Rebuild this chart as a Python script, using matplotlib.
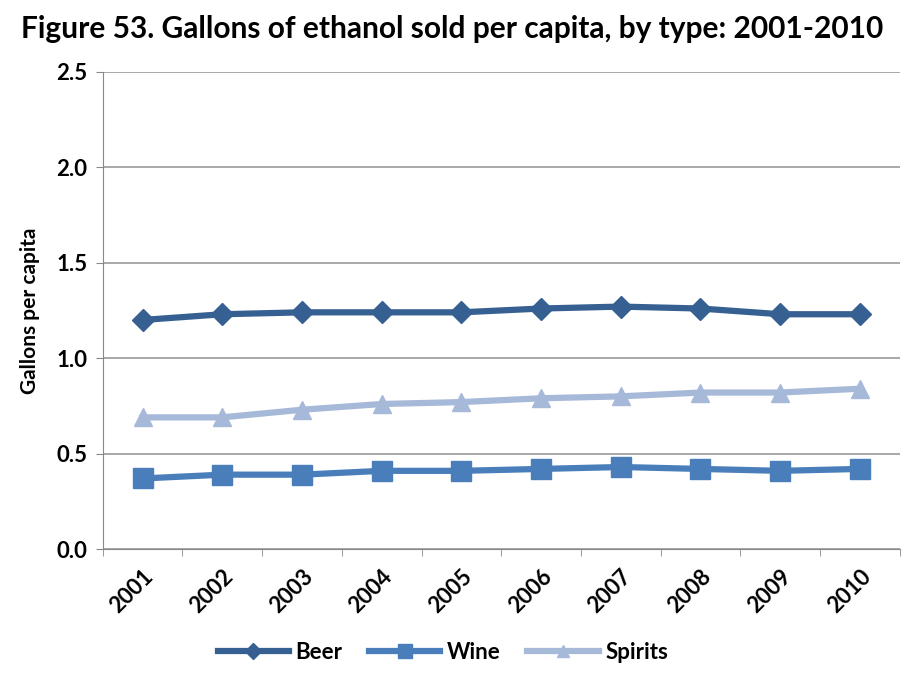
import matplotlib.pyplot as plt

# data
years = ['2001', '2002', '2003', '2004', '2005', '2006', '2007', '2008', '2009', '2010']
beer = [1.20, 1.23, 1.24, 1.24, 1.24, 1.26, 1.27, 1.26, 1.23, 1.23]
wine = [0.37, 0.39, 0.39, 0.41, 0.41, 0.42, 0.43, 0.42, 0.41, 0.42]
spirits = [0.69, 0.69, 0.73, 0.76, 0.77, 0.79, 0.80, 0.82, 0.82, 0.84]

plt.rcParams['font.family'] = ['Lato', 'DejaVu Sans']
plt.rcParams['font.weight'] = 'bold'

fig = plt.figure(figsize=(9.04, 6.83), dpi=100)
ax = fig.add_axes([0.1136, 0.196, 0.8817, 0.699])

x = list(range(len(years)))
ax.plot(x, beer, color='#376092', lw=4.5, marker='D', ms=11, label='Beer')
ax.plot(x, wine, color='#4A7EBB', lw=4.5, marker='s', ms=15, label='Wine')
ax.plot(x, spirits, color='#A7B9D9', lw=4.5, marker='^', ms=13, label='Spirits')

ax.set_ylim(0, 2.5)
ax.set_xlim(-0.5, 9.5)
ax.set_yticks([0, 0.5, 1.0, 1.5, 2.0, 2.5])
ax.set_yticklabels(['0.0', '0.5', '1.0', '1.5', '2.0', '2.5'], fontsize=16, fontweight='bold')
ax.set_xticks(x)
ax.set_xticklabels(years, rotation=45, fontsize=16, fontweight='bold', ha='right', rotation_mode='anchor')
# category boundary ticks like the original
ax.set_xticks([i - 0.5 for i in range(len(years) + 1)], minor=True)
ax.tick_params(axis='x', which='major', length=0, pad=12)
ax.tick_params(axis='x', which='minor', length=5, color='#888888')
ax.tick_params(axis='y', length=5, color='#888888', pad=6)
ax.grid(axis='y', color='#999999', lw=1.2)
ax.set_axisbelow(True)
for s in ['top', 'right']:
    ax.spines[s].set_visible(False)
ax.spines['left'].set_color('#888888')
ax.spines['bottom'].set_color('#888888')

ax.set_ylabel('Gallons per capita', fontsize=15, fontweight='bold', labelpad=12)
fig.text(0.5, 0.978, 'Figure 53. Gallons of ethanol sold per capita, by type: 2001-2010',
         ha='center', va='top', fontsize=21.5, fontweight='bold')

fig.legend(loc='lower center', bbox_to_anchor=(0.49, 0.0), ncol=3, frameon=False,
           fontsize=16, handlelength=3.2, columnspacing=1.2, handletextpad=0.3,
           markerscale=0.7)

fig.savefig('out.png', dpi=100)
